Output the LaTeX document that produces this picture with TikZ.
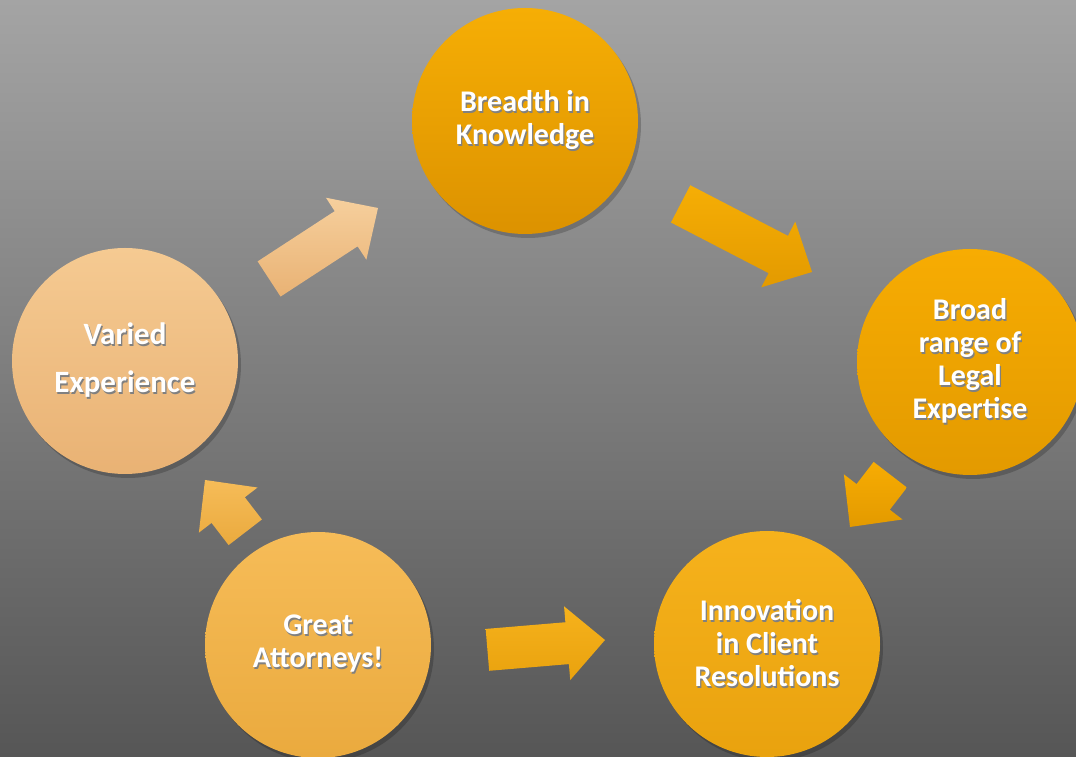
\documentclass[tikz,border=0pt]{standalone}
\usepackage{fontspec}
\setmainfont{Carlito}
\usetikzlibrary{shadows,calc}
\definecolor{bgtop}{HTML}{A4A4A4}
\definecolor{bgbot}{HTML}{565656}
\definecolor{c1t}{HTML}{F6AE05}\definecolor{c1b}{HTML}{DC9200}
\definecolor{c2t}{HTML}{F7AC02}\definecolor{c2b}{HTML}{E39A00}
\definecolor{c3t}{HTML}{F6B21C}\definecolor{c3b}{HTML}{E9A20E}
\definecolor{c4t}{HTML}{F6BC58}\definecolor{c4b}{HTML}{EAAA3E}
\definecolor{c5t}{HTML}{F5CA92}\definecolor{c5b}{HTML}{E9B274}
\newcommand\shtxt[1]{\makebox[0pt]{\raisebox{-2pt}{\hspace{2.5pt}\textcolor{black!50}{#1}}}\makebox[0pt]{\textcolor{white}{#1}}}
\tikzset{
  x=1pt,y=1pt,
  bubble/.style={circle, minimum size=226pt, inner sep=0pt, align=center,
    font=\bfseries\fontsize{30}{33}\selectfont,
    drop shadow={shadow xshift=3pt, shadow yshift=-4pt, opacity=0.2, fill=black}},
  pics/barrow/.style={code={
    \path[pic actions] (0,0) -- (-38,37) -- (-38,21) -- (-#1,21) -- (-#1,-21) -- (-38,-21) -- (-38,-37) -- cycle;}},
  ashadow/.style={drop shadow={shadow xshift=2pt, shadow yshift=-3pt, opacity=0.2, fill=black}}
}
\begin{document}
\begin{tikzpicture}
\shade[top color=bgtop, bottom color=bgbot] (0,0) rectangle (1076,757);
\useasboundingbox (0,0) rectangle (1076,757);
% circles
\node[bubble, top color=c1t, bottom color=c1b] (breadth) at (525,636) {\shtxt{Breadth in}\\\shtxt{Knowledge}};
\node[bubble, top color=c2t, bottom color=c2b] (broad) at (970,395) {\shtxt{Broad}\\\shtxt{range of}\\\shtxt{Legal}\\\shtxt{Expertise}};
\node[bubble, top color=c3t, bottom color=c3b] (innov) at (767,113) {\shtxt{Innovation}\\\shtxt{in Client}\\\shtxt{Resolutions}};
\node[bubble, top color=c4t, bottom color=c4b] (great) at (318,112) {\shtxt{Great}\\\shtxt{Attorneys!}};
\node[bubble, top color=c5t, bottom color=c5b, font=\bfseries\fontsize{31}{48}\selectfont] (varied) at (125,396) {\shtxt{Varied}\\\shtxt{Experience}};
% block arrows
\pic[rotate=33.1, top color=c5t!90!white, bottom color=c5b, ashadow] at (378,549) {barrow=130};
\pic[rotate=-27.4, top color=c1t, bottom color=c2b, ashadow] at (812,485) {barrow=148};
\pic[rotate=-127.6, top color=c2t, bottom color=c2b, ashadow] at (850,230) {barrow=66};
\pic[rotate=127.6, top color=c4t, bottom color=c4b, ashadow] at (205,277) {barrow=66};
\pic[rotate=4.8, top color=c3t, bottom color=c3b, ashadow] at (605,117) {barrow=118};
\end{tikzpicture}
\end{document}
